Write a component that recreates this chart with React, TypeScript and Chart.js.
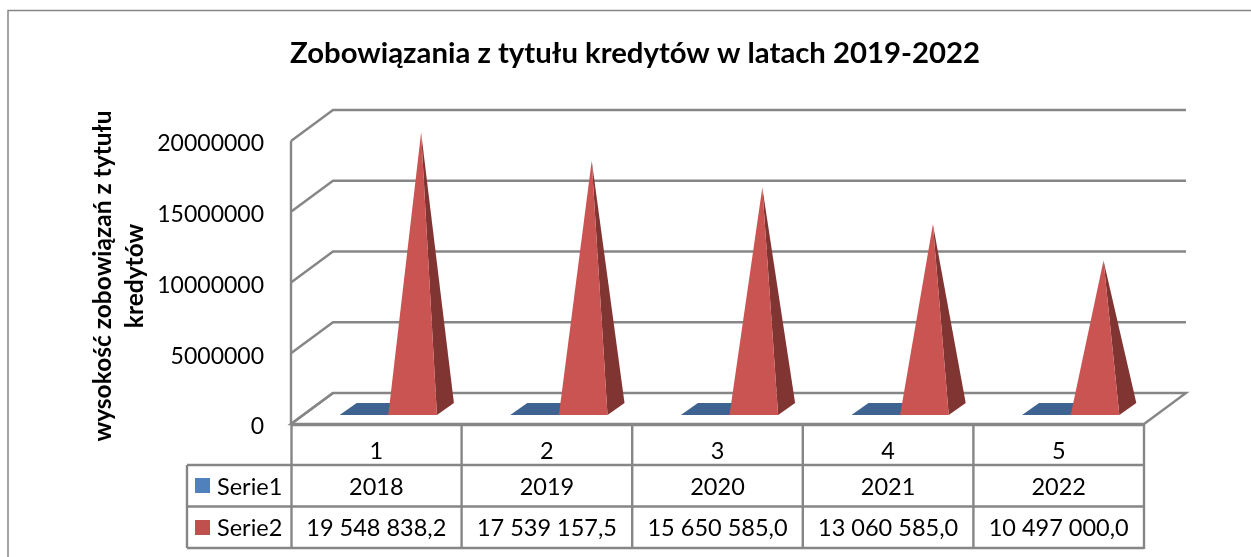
import React, { useEffect, useRef } from "react";
import { Chart, registerables } from "chart.js";

Chart.register(...registerables);

const chartTitle = "Zobowiązania z tytułu kredytów w latach 2019-2022";
const yAxisTitle = ["wysokość zobowiązań z tytułu", "kredytów"];
const categories = ["1", "2", "3", "4", "5"];
const serie1 = [2018, 2019, 2020, 2021, 2022];
const serie2 = [19548838.2, 17539157.5, 15650585.0, 13060585.0, 10497000.0];
const seriesNames = ["Serie1", "Serie2"];
const yTicks = [0, 5000000, 10000000, 15000000, 20000000];

const FONT = "Lato, sans-serif";
const LINE = "#868686";
const DEPTH_X = 42;
const DEPTH_Y = 31;
const BASE_IN_X = 12;
const BASE_IN_Y = 9;
const BAR_DEPTH_X = 17;
const BAR_DEPTH_Y = 12;
const LABEL_DROP = 3; // tick labels sit a little below the wall level they name

const formatSerie2 = (v: number) => {
  const [i, d] = v.toFixed(1).split(".");
  return i.replace(/\B(?=(\d{3})+$)/g, " ") + "," + d;
};

const faces = [
  { front: "#3F6391", side: "#3F6391", top: "#3F6391" },
  { front: "#CA5451", side: "#803533", top: "#CA5451" },
];

const threeD = {
  id: "threeD",
  beforeDatasetsDraw(chart: any) {
    const { ctx, chartArea: a, scales } = chart;
    const y = scales.y;
    const top = a.top - LABEL_DROP;
    const bottom = a.bottom - LABEL_DROP;
    ctx.save();
    ctx.strokeStyle = LINE;
    // frame of the picture
    ctx.lineWidth = 1.5;
    ctx.beginPath();
    ctx.moveTo(8, 557);
    ctx.lineTo(8, 10.5);
    ctx.lineTo(1251, 10.5);
    ctx.stroke();
    ctx.lineWidth = 2.4;
    // wall + back gridlines
    y.ticks.forEach((t: any) => {
      const py = y.getPixelForValue(t.value) - LABEL_DROP;
      ctx.beginPath();
      ctx.moveTo(a.left, py);
      ctx.lineTo(a.left + DEPTH_X, py - DEPTH_Y);
      if (t.value !== 0) ctx.lineTo(a.right + DEPTH_X, py - DEPTH_Y);
      ctx.stroke();
    });
    // left wall edge
    ctx.beginPath();
    ctx.moveTo(a.left, top);
    ctx.lineTo(a.left, bottom);
    ctx.stroke();
    // floor
    ctx.beginPath();
    ctx.moveTo(a.left, bottom);
    ctx.lineTo(a.left + DEPTH_X, bottom - DEPTH_Y);
    ctx.lineTo(a.right + DEPTH_X, bottom - DEPTH_Y);
    ctx.lineTo(a.right, bottom);
    ctx.closePath();
    ctx.stroke();
    ctx.restore();
  },
  beforeDatasetDraw() {
    return false; // the bars are drawn as pyramids below
  },
  afterDatasetsDraw(chart: any) {
    const { ctx, scales } = chart;
    const zero = scales.y.getPixelForValue(0);
    chart.data.datasets.forEach((_: any, di: number) => {
      const meta = chart.getDatasetMeta(di);
      const c = faces[di];
      meta.data.forEach((bar: any) => {
        const h = zero - bar.y;
        const l = bar.x - bar.width / 2 + BASE_IN_X;
        const r = bar.x + bar.width / 2 + BASE_IN_X;
        const by = zero - LABEL_DROP - BASE_IN_Y;
        const ax = (l + r) / 2 + BAR_DEPTH_X / 2;
        const ay = by - BAR_DEPTH_Y / 2 - h;
        ctx.save();
        if (h < 1) {
          ctx.fillStyle = c.top;
          ctx.beginPath();
          ctx.moveTo(l, by);
          ctx.lineTo(l + BAR_DEPTH_X, by - BAR_DEPTH_Y);
          ctx.lineTo(r + BAR_DEPTH_X, by - BAR_DEPTH_Y);
          ctx.lineTo(r, by);
          ctx.closePath();
          ctx.fill();
        } else {
          ctx.fillStyle = c.side;
          ctx.beginPath();
          ctx.moveTo(r, by);
          ctx.lineTo(r + BAR_DEPTH_X, by - BAR_DEPTH_Y);
          ctx.lineTo(ax, ay);
          ctx.closePath();
          ctx.fill();
          ctx.fillStyle = c.front;
          ctx.beginPath();
          ctx.moveTo(l, by);
          ctx.lineTo(r, by);
          ctx.lineTo(ax, ay);
          ctx.closePath();
          ctx.fill();
        }
        ctx.restore();
      });
    });
  },
  afterDraw(chart: any) {
    const { ctx, chartArea: a, scales } = chart;
    const xs = scales.x;
    const band = (a.right - a.left) / categories.length;
    const rows = [465, 506.5, 548];
    const legendLeft = 187;
    ctx.save();
    // data table
    ctx.strokeStyle = LINE;
    ctx.lineWidth = 2.4;
    ctx.beginPath();
    ctx.moveTo(a.left, 425);
    ctx.lineTo(a.right, 425);
    rows.forEach((ry) => {
      ctx.moveTo(legendLeft, ry);
      ctx.lineTo(a.right, ry);
    });
    ctx.moveTo(legendLeft, rows[0]);
    ctx.lineTo(legendLeft, rows[2]);
    for (let i = 0; i <= categories.length; i++) {
      const vx = a.left + band * i + (i === 0 ? 0.5 : 0);
      ctx.moveTo(vx, 424);
      ctx.lineTo(vx, rows[2] + 1);
    }
    ctx.stroke();
    // title
    ctx.fillStyle = "#000";
    ctx.textAlign = "center";
    ctx.textBaseline = "middle";
    ctx.font = `bold 29.3px ${FONT}`;
    ctx.fillText(chartTitle, 635, 54);
    // axis title
    ctx.font = `bold 24.5px ${FONT}`;
    yAxisTitle.forEach((line, i) => {
      ctx.save();
      ctx.translate(103 + i * 32, 276);
      ctx.rotate(-Math.PI / 2);
      ctx.fillText(line, 0, 0);
      ctx.restore();
    });
    // table rows
    ctx.font = `23.5px ${FONT}`;
    const rowY = [487, 528];
    const swatchY = [478, 520];
    const swatches = ["#4F81BD", "#C0504D"];
    seriesNames.forEach((n, i) => {
      ctx.fillStyle = swatches[i];
      ctx.fillRect(195, swatchY[i], 15, 15);
      ctx.fillStyle = "#000";
      ctx.textAlign = "left";
      ctx.fillText(n, 217, rowY[i]);
    });
    ctx.textAlign = "center";
    categories.forEach((_, i) => {
      const cx = xs.getPixelForTick(i);
      ctx.fillText(String(serie1[i]), cx, rowY[0]);
      ctx.fillText(formatSerie2(serie2[i]), cx, rowY[1]);
    });
    ctx.restore();
  },
};

export default function App() {
  const ref = useRef<HTMLCanvasElement>(null);
  useEffect(() => {
    const chart = new Chart(ref.current!, {
      type: "bar",
      data: {
        labels: categories,
        datasets: [
          { label: seriesNames[0], data: serie1, backgroundColor: "#4F81BD", borderWidth: 0 },
          { label: seriesNames[1], data: serie2, backgroundColor: "#C0504D", borderWidth: 0 },
        ],
      },
      options: {
        animation: false,
        responsive: false,
        events: [],
        layout: { padding: { top: 141 + LABEL_DROP, right: 107, left: 0, bottom: 0 } },
        datasets: { bar: { categoryPercentage: 0.57, barPercentage: 1 } },
        plugins: {
          legend: { display: false },
          tooltip: { enabled: false },
          title: { display: false, text: chartTitle },
        },
        scales: {
          x: {
            grid: { display: false },
            border: { display: false },
            ticks: { color: "#000", font: { family: FONT, size: 23.5 }, padding: 2, maxRotation: 0 },
            afterFit: (s: any) => { s.height = 133 - LABEL_DROP; },
          },
          y: {
            min: 0,
            max: 20000000,
            grid: { display: false },
            border: { display: false },
            afterBuildTicks: (s: any) => { s.ticks = yTicks.map((value) => ({ value })); },
            ticks: { color: "#000", font: { family: FONT, size: 23 }, padding: 19, callback: (v: any) => String(v) },
            afterFit: (s: any) => { s.width = 291; },
          },
        },
      },
      plugins: [threeD],
    } as any);
    return () => chart.destroy();
  }, []);
  return (
    <div style={{ position: "absolute", left: 0, top: 0, width: 1251, height: 557, background: "#fff" }}>
      <canvas ref={ref} width={1251} height={557} style={{ display: "block" }} />
    </div>
  );
}
